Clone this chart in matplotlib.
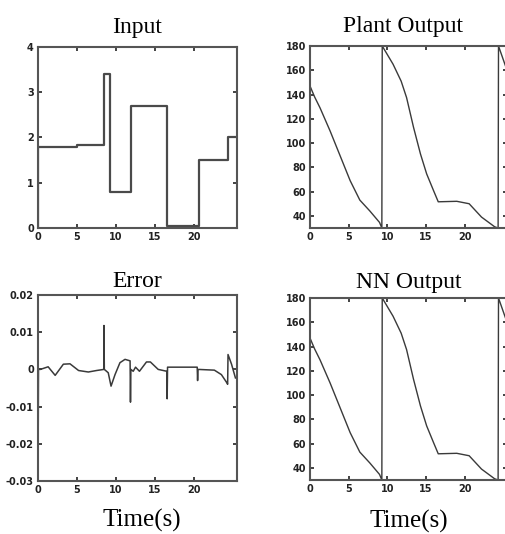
import numpy as np
import matplotlib
matplotlib.use('Agg')
import matplotlib.pyplot as plt

# input signal (step changes)
t_input = [0, 0.05, 5.0, 8.4, 9.2, 11.9, 16.55, 20.6, 24.3, 25.5]
u_input = [0, 1.8, 1.84, 3.4, 0.8, 2.7, 0.05, 1.5, 2.0, 2.0]

# plant output (wraps from 30 back to 180)
t_plant = [0, 0.6, 1.3, 2.6, 3.9, 5.2, 6.45, 7.75, 9.0, 9.3, 9.35, 10.75, 11.8, 12.5, 13.4, 14.3,
           15.1, 16.0, 16.6, 19.0, 20.6, 22.2, 23.9, 24.35, 24.4, 25.5]
y_plant = [147, 138, 129, 110, 89.5, 69, 53, 44, 34.6, 30, 180, 165, 151, 137.5, 113, 91,
           74.6, 60.7, 51.6, 52, 50, 39, 31, 30, 180, 160]

# nn output (follows plant output)
t_nn = [0, 0.6, 1.3, 2.6, 3.9, 5.2, 6.45, 7.75, 9.0, 9.3, 9.35, 10.75, 11.8, 12.5, 13.4, 14.3,
        15.1, 16.0, 16.6, 19.0, 20.6, 22.2, 23.9, 24.35, 24.4, 25.5]
y_nn = [147, 138, 129, 110, 89.5, 69, 53, 44, 34.6, 30, 180, 165, 151, 137.5, 113, 91,
        74.6, 60.7, 51.6, 52, 50, 39, 31, 30, 180, 160]

# error
t_err = [0, 0.02, 0.06, 0.3, 1.3, 2.2, 3.25, 4.1, 5.2, 6.45, 7.5, 8.45, 8.45, 8.5, 9.0, 9.36,
         9.87, 10.5, 11.15, 11.8, 11.85, 11.9, 12.2, 12.5, 13.0, 13.9, 14.4, 15.4, 16.5, 16.55,
         16.6, 20.4, 20.45, 20.5, 22.6, 23.5, 24.2, 24.3, 24.35, 24.8, 25.3]
e_err = [0, -0.021, 0, 0, 0.0007, -0.0016, 0.0014, 0.0015, -0.0003, -0.0007, -0.0003, 0, 0.0118,
         0, -0.0009, -0.0045, -0.0014, 0.0018, 0.0027, 0.0023, -0.0088, 0, -0.0005, 0.0006,
         -0.0005, 0.002, 0.002, 0, -0.0005, -0.0079, 0.0006, 0.0006, -0.003, 0, -0.0002,
         -0.0014, -0.0036, -0.004, 0.004, 0.0014, -0.0023]

W, H = 506, 534
fig = plt.figure(figsize=(W/100, H/100), dpi=100)

def make_axes(l, r, t, b):
    return fig.add_axes([l/W, 1-b/H, (r-l)/W, (b-t)/H])

lc = '#3a3a3a'
tick_font = {'family': ['Liberation Sans Narrow', 'DejaVu Sans'], 'weight': 'bold', 'size': 7}
serif = ['Liberation Serif', 'DejaVu Serif']

def style(ax):
    for s in ax.spines.values():
        s.set_color('#555555')
        s.set_linewidth(1.5)
    ax.tick_params(direction='in', length=3, width=1.2, top=True, right=True,
                   colors='#222222', pad=3)
    for lab in ax.get_xticklabels() + ax.get_yticklabels():
        lab.set_fontproperties(matplotlib.font_manager.FontProperties(**tick_font))

ax1 = make_axes(38, 237, 47, 228)
ax1.plot(t_input, u_input, drawstyle='steps-post', color='#4a4a4a', lw=1.6)
ax1.set_xlim(0, 25.5)
ax1.set_ylim(0, 4)
ax1.set_xticks([0, 5, 10, 15, 20])
ax1.set_yticks([0, 1, 2, 3, 4])
ax1.set_title('Input', family=serif, fontsize=17, pad=10)
style(ax1)

ax2 = make_axes(310, 507, 46, 228)
ax2.plot(t_plant, y_plant, color=lc, lw=1.0)
ax2.set_xlim(0, 25.5)
ax2.set_ylim(30, 180)
ax2.set_xticks([0, 5, 10, 15, 20])
ax2.set_yticks(range(40, 181, 20))
ax2.set_title('Plant Output', family=serif, fontsize=17, pad=10, x=0.47)
style(ax2)

ax3 = make_axes(38, 237, 295, 481)
ax3.plot(t_err, e_err, color=lc, lw=1.1)
ax3.set_xlim(0, 25.5)
ax3.set_ylim(-0.03, 0.02)
ax3.set_xticks([0, 5, 10, 15, 20])
ax3.set_yticks([-0.03, -0.02, -0.01, 0, 0.01, 0.02])
ax3.set_yticklabels(['-0.03', '-0.02', '-0.01', '0', '0.01', '0.02'])
ax3.set_title('Error', family=serif, fontsize=17, pad=6)
ax3.set_xlabel('Time(s)', family=serif, fontsize=18, va='baseline')
ax3.xaxis.set_label_coords(0.52, (481-527)/186)
style(ax3)

ax4 = make_axes(310, 507, 298, 480)
ax4.plot(t_nn, y_nn, color=lc, lw=1.0)
ax4.set_xlim(0, 25.5)
ax4.set_ylim(30, 180)
ax4.set_xticks([0, 5, 10, 15, 20])
ax4.set_yticks(range(40, 181, 20))
ax4.set_title('NN Output', family=serif, fontsize=17, pad=7)
ax4.set_xlabel('Time(s)', family=serif, fontsize=18, va='baseline')
ax4.xaxis.set_label_coords(0.5, (480-528)/182)
style(ax4)

fig.savefig('out.png', dpi=100)
